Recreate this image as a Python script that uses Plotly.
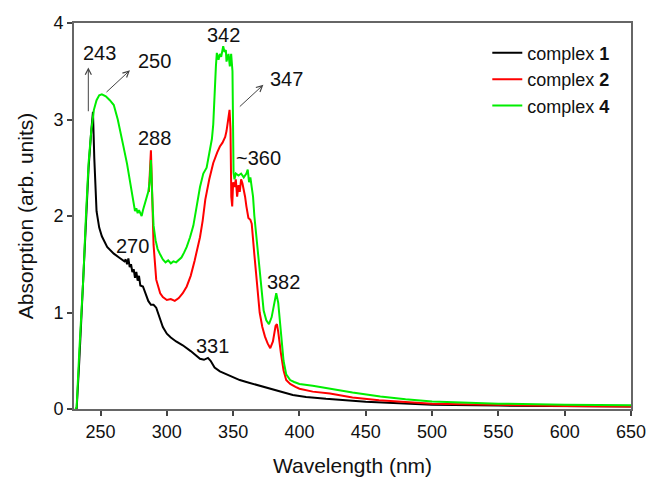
import plotly.graph_objects as go

# ---------------- data ----------------
wl_c1 = [231, 232, 234, 237, 239, 241, 243, 244.3, 245.3, 246, 247, 249, 251, 255, 260, 265,
         268, 269, 270, 271, 272, 273, 274, 275, 276, 277, 278, 279, 280, 282, 284, 286, 288,
         290, 292, 294, 297, 300, 303, 307, 312, 318, 322, 325, 328, 331, 333, 336, 340, 345,
         350, 355, 360, 370, 380, 388, 395, 405, 420, 450, 500, 550, 600, 650]
abs_c1 = [0.0, 0.0, 0.5, 1.3, 1.95, 2.5, 2.88, 3.08, 2.6, 2.3, 2.05, 1.88, 1.79, 1.68, 1.61, 1.56,
          1.53, 1.55, 1.5, 1.56, 1.47, 1.5, 1.42, 1.45, 1.36, 1.42, 1.33, 1.38, 1.28, 1.27, 1.2, 1.12, 1.08,
          1.08, 1.05, 0.97, 0.85, 0.78, 0.74, 0.7, 0.66, 0.6, 0.55, 0.52, 0.51, 0.53, 0.5, 0.43, 0.39, 0.36,
          0.33, 0.3, 0.28, 0.24, 0.2, 0.17, 0.145, 0.125, 0.105, 0.075, 0.045, 0.035, 0.03, 0.025]

wl_c2 = [286.5, 288, 289, 290, 292, 295, 297, 300, 303, 306, 309, 312, 315, 318, 321, 323, 325,
         327, 329, 332, 335, 338, 340, 342, 344, 345, 346, 347.3, 348, 348.6, 349.3, 350, 351, 352,
         353, 354, 355, 356, 357, 358, 359, 360, 361.5, 363, 364, 366, 368, 370, 372, 374, 376, 378,
         380, 382, 383, 384, 386, 388, 390, 393, 397, 400, 410, 423, 440, 460, 500, 550, 600, 650]
abs_c2 = [2.25, 2.68, 2.2, 1.7, 1.34, 1.2, 1.16, 1.13, 1.14, 1.12, 1.15, 1.2, 1.27, 1.38, 1.54, 1.65, 1.78,
          1.95, 2.17, 2.38, 2.55, 2.66, 2.72, 2.76, 2.82, 2.88, 2.97, 3.1, 2.9, 2.2, 2.1, 2.35, 2.3, 2.38,
          2.2, 2.32, 2.25, 2.38, 2.34, 2.28, 2.2, 2.1, 1.98, 1.96, 1.92, 1.6, 1.3, 1.0, 0.85, 0.75, 0.68, 0.63,
          0.7, 0.86, 0.88, 0.8, 0.58, 0.4, 0.3, 0.26, 0.23, 0.21, 0.18, 0.16, 0.12, 0.09, 0.055, 0.04, 0.03, 0.025]

wl_c4 = [231, 232, 234, 237, 239, 241, 243, 245, 247, 249, 251, 254, 257, 260, 263, 265, 267, 270,
         272, 274, 275, 276, 277, 278, 279, 280, 281, 282, 284, 286, 287, 288, 289, 290, 291.5, 293,
         295, 297, 299, 301, 303, 305, 307, 309, 311, 313, 315, 317.5, 320, 322.5, 325, 327.5, 330,
         332, 334, 335, 336, 337, 337.7, 339, 340, 341, 342.5, 343.5, 344.5, 345, 346.5, 347.5, 348.5,
         349.5, 350.3, 351, 352, 354, 356, 358, 360, 361, 362, 363, 364, 365, 366, 368, 370, 371.5,
         373, 375, 377, 379, 381, 382.5, 384, 386, 388, 390, 393, 396, 400, 410, 423, 440, 461, 480,
         500, 550, 600, 650]
abs_c4 = [0.0, 0.02, 0.6, 1.35, 2.0, 2.55, 2.88, 3.1, 3.2, 3.25, 3.26, 3.24, 3.2, 3.15, 3.0, 2.88, 2.74, 2.54,
          2.38, 2.22, 2.12, 2.05, 2.08, 2.03, 2.06, 2.02, 2.0, 2.06, 2.15, 2.25, 2.35, 2.58, 2.2, 1.9, 1.75, 1.66,
          1.6, 1.55, 1.52, 1.54, 1.51, 1.53, 1.52, 1.55, 1.57, 1.62, 1.68, 1.78, 1.9, 2.1, 2.3, 2.44, 2.5,
          2.65, 2.8, 2.95, 3.35, 3.55, 3.69, 3.62, 3.68, 3.65, 3.76, 3.7, 3.72, 3.6, 3.68, 3.55, 3.68,
          3.5, 2.45, 2.38, 2.44, 2.42, 2.44, 2.4, 2.44, 2.48, 2.35, 2.4, 2.3, 2.2, 2.0, 1.72, 1.4, 1.16,
          1.02, 0.92, 0.88, 0.95, 1.12, 1.2, 1.1, 0.82, 0.5, 0.36, 0.3, 0.28, 0.26, 0.24, 0.21, 0.17, 0.13, 0.1,
          0.077, 0.055, 0.045, 0.04]

series_names = ["complex <b>1</b>", "complex <b>2</b>", "complex <b>4</b>"]
series_colors = ["#000000", "#ff0000", "#00ee00"]

x_ticks = [250, 300, 350, 400, 450, 500, 550, 600, 650]
y_ticks = [0, 1, 2, 3, 4]

# peak labels: (text, x, y)
peak_labels = [("243", 249.6, 3.69), ("250", 290.7, 3.61), ("288", 290.7, 2.81),
               ("342", 342.7, 3.88), ("347", 390.6, 3.42), ("~360", 369.1, 2.60),
               ("382", 388.0, 1.316), ("270", 274.1, 1.69), ("331", 334.8, 0.648)]
# arrows: (tail x, tail y, head x, head y)
arrows = [(240.8, 3.07, 240.8, 3.54), (253.4, 3.27, 272.2, 3.51), (353.9, 3.12, 372.8, 3.36)]

FONT = "Liberation Sans, Arial, sans-serif"

fig = go.Figure()
for wl, ab, name, col in zip([wl_c1, wl_c2, wl_c4], [abs_c1, abs_c2, abs_c4], series_names, series_colors):
    fig.add_trace(go.Scatter(x=wl, y=ab, mode="lines", name=name,
                             line=dict(color=col, width=2)))

for txt, x, y in peak_labels:
    fig.add_annotation(x=x, y=y, text=txt, showarrow=False,
                       font=dict(family=FONT, size=20, color="#111"))
for tx, ty, hx, hy in arrows:
    fig.add_annotation(x=hx, y=hy, ax=tx, ay=ty, axref="x", ayref="y", xref="x", yref="y",
                       text="", showarrow=True, arrowhead=5, arrowsize=1.2, arrowwidth=1,
                       arrowcolor="#444")

fig.update_layout(
    width=648, height=482,
    margin=dict(l=74, r=17, t=23, b=73, autoexpand=False),
    paper_bgcolor="white", plot_bgcolor="white",
    font=dict(family=FONT, size=18, color="#111"),
    showlegend=True,
    legend=dict(x=0.742, y=0.97, xanchor="left", yanchor="top",
                bgcolor="rgba(0,0,0,0)", font=dict(size=18, family=FONT),
                tracegroupgap=0),
    xaxis=dict(range=[230, 650], tickvals=x_ticks, showgrid=False, zeroline=False,
               showline=True, linecolor="#666", linewidth=2, mirror=True, automargin=False,
               ticks="outside", ticklen=5, tickcolor="#444", tickwidth=1.5,
               title=dict(text="Wavelength (nm)", font=dict(size=21, family=FONT), standoff=18)),
    yaxis=dict(range=[0, 4], tickvals=y_ticks, showgrid=False, zeroline=False,
               showline=True, linecolor="#666", linewidth=2, mirror=True, automargin=False,
               ticks="outside", ticklen=5, tickcolor="#444", tickwidth=1.5,
               title=dict(text="Absorption (arb. units)", font=dict(size=21, family=FONT), standoff=14)),
)

fig.write_html("out.html")
